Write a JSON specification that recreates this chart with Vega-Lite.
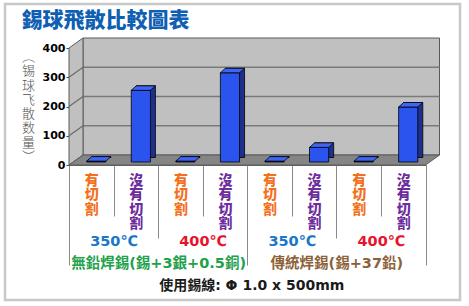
{
  "$schema": "https://vega.github.io/schema/vega-lite/v6.json",
  "autosize": "none",
  "width": 356.5,
  "height": 117,
  "padding": {"left": 69, "top": 48, "right": 43.5, "bottom": 141},
  "background": "white",
  "config": {
    "view": {"stroke": null},
    "axis": {"grid": false, "labelLimit": 0},
    "axisQuantitative": {"tickCount": 5, "labelOverlap": false}
  },
  "datasets": {
    "bars": [
      {"solder": "無鉛焊錫(錫+3銀+0.5銅)", "temp": "350℃", "cut": "有切割", "key": "無鉛-350-有切割", "count": 3},
      {"solder": "無鉛焊錫(錫+3銀+0.5銅)", "temp": "350℃", "cut": "沒有切割", "key": "無鉛-350-沒有切割", "count": 245},
      {"solder": "無鉛焊錫(錫+3銀+0.5銅)", "temp": "400℃", "cut": "有切割", "key": "無鉛-400-有切割", "count": 3},
      {"solder": "無鉛焊錫(錫+3銀+0.5銅)", "temp": "400℃", "cut": "沒有切割", "key": "無鉛-400-沒有切割", "count": 305},
      {"solder": "傳統焊錫(錫+37鉛)", "temp": "350℃", "cut": "有切割", "key": "傳統-350-有切割", "count": 3},
      {"solder": "傳統焊錫(錫+37鉛)", "temp": "350℃", "cut": "沒有切割", "key": "傳統-350-沒有切割", "count": 50},
      {"solder": "傳統焊錫(錫+37鉛)", "temp": "400℃", "cut": "有切割", "key": "傳統-400-有切割", "count": 3},
      {"solder": "傳統焊錫(錫+37鉛)", "temp": "400℃", "cut": "沒有切割", "key": "傳統-400-沒有切割", "count": 188}
    ],
    "temps": [
      {"group": "無鉛-350"},
      {"group": "無鉛-400"},
      {"group": "傳統-350"},
      {"group": "傳統-400"}
    ],
    "solders": [
      {"solder": "無鉛焊錫(錫+3銀+0.5銅)"},
      {"solder": "傳統焊錫(錫+37鉛)"}
    ],
    "heading": [{"name": "錫球飛散比較圖表"}],
    "caption": [{"note": "使用錫線: Φ 1.0 x 500mm"}],
    "ytitle": [
      {"ch": "︵"}, {"ch": "锡"}, {"ch": "球"}, {"ch": "飞"}, {"ch": "散"}, {"ch": "数"}, {"ch": "量"}, {"ch": "︶"}
    ],
    "grid": [{"v": 100}, {"v": 200}, {"v": 300}],
    "box": [{"bottom": 0}]
  },
  "layer": [
    {
      "layer": [
        {
          "data": {"name": "box"},
          "mark": {"type": "point", "shape": "M-242.25,-161 L212.75,-161 L212.75,135 L-242.25,135 Z", "size": 4, "filled": false, "stroke": "#c8c8c8", "strokeWidth": 2.5, "opacity": 1},
          "encoding": {
            "y": {"field": "bottom", "type": "quantitative",
                  "scale": {"domain": [0, 400], "nice": false, "zero": true},
                  "axis": {
                    "orient": "left", "values": [0, 100, 200, 300, 400], "tickCount": 5, "title": null,
                    "domainColor": "#444", "tickSize": 3, "tickColor": "#444",
                    "labelFont": "DejaVu Sans", "labelFontWeight": "bold", "labelFontSize": 11, "labelColor": "#000", "labelPadding": 1,
                    "labelOverlap": false
                  }}
          }
        },
        {
          "data": {"name": "box"},
          "mark": {"type": "point", "shape": "M-164.25,-10 L192.25,-10 L192.25,-127 L-164.25,-127 Z", "size": 4, "filled": true, "fill": "#c0c0c0", "stroke": "#5a5a5a", "strokeWidth": 1, "opacity": 1},
          "encoding": {"y": {"field": "bottom", "type": "quantitative"}}
        },
        {
          "data": {"name": "grid"},
          "mark": {"type": "point", "shape": "M-164.25,-10 L192.25,-10", "size": 4, "filled": false, "stroke": "#7a7a7a", "strokeWidth": 1.5, "opacity": 1},
          "encoding": {"y": {"field": "v", "type": "quantitative"}}
        },
        {
          "data": {"name": "box"},
          "mark": {"type": "point", "shape": "M-178.25,0 L-178.25,-117 L-164.25,-127 L-164.25,-10 Z", "size": 4, "filled": true, "fill": "#c0c0c0", "stroke": "#5a5a5a", "strokeWidth": 1, "opacity": 1},
          "encoding": {"y": {"field": "bottom", "type": "quantitative"}}
        },
        {
          "data": {"name": "grid"},
          "mark": {"type": "point", "shape": "M-178.25,0 L-164.25,-10", "size": 4, "filled": false, "stroke": "#6a6a6a", "strokeWidth": 1.2, "opacity": 1},
          "encoding": {"y": {"field": "v", "type": "quantitative"}}
        },
        {
          "data": {"name": "box"},
          "mark": {"type": "point", "shape": "M-178.25,0 L178.25,0 L192.25,-10 L-164.25,-10 Z", "size": 4, "filled": true, "fill": "#858585", "stroke": "#5a5a5a", "strokeWidth": 1, "opacity": 1},
          "encoding": {"y": {"field": "bottom", "type": "quantitative"}}
        },
        {
          "data": {"name": "bars"},
          "mark": {"type": "bar", "width": {"band": 0.43}, "fill": "#1e2f8c", "stroke": "#000", "strokeWidth": 0.8, "xOffset": 10, "yOffset": -7.5, "y2Offset": -3},
          "encoding": {
            "x": {"field": "key", "type": "nominal",
                  "scale": {"domain": ["無鉛-350-有切割", "無鉛-350-沒有切割", "無鉛-400-有切割", "無鉛-400-沒有切割", "傳統-350-有切割", "傳統-350-沒有切割", "傳統-400-有切割", "傳統-400-沒有切割"],
                            "paddingInner": 0, "paddingOuter": 0},
                  "axis": {
                    "orient": "bottom", "title": null, "labels": false,
                    "domain": true, "domainColor": "#666", "domainWidth": 1,
                    "ticks": true, "tickBand": "extent", "tickSize": 51, "tickColor": "#8a8a8a", "tickWidth": 1
                  }},
            "y": {"field": "count", "type": "quantitative"}
          }
        },
        {
          "data": {"name": "bars"},
          "mark": {"type": "bar", "width": {"band": 0.43}, "fill": "#2b54ee", "stroke": "#000", "strokeWidth": 0.8, "xOffset": 5, "yOffset": -3, "y2Offset": -3},
          "encoding": {
            "x": {"field": "key", "type": "nominal"},
            "y": {"field": "count", "type": "quantitative"}
          }
        },
        {
          "data": {"name": "bars"},
          "mark": {"type": "point", "shape": "M-4.6,-3 L14.6,-3 L19.6,-7.5 L0.4,-7.5 Z", "size": 4, "filled": true, "fill": "#3e65f4", "stroke": "#000", "strokeWidth": 0.8, "opacity": 1},
          "encoding": {
            "x": {"field": "key", "type": "nominal"},
            "y": {"field": "count", "type": "quantitative"}
          }
        }
      ]
    },
    {
      "data": {"name": "heading"},
      "mark": {"type": "point", "opacity": 0},
      "encoding": {
        "x": {"field": "name", "type": "nominal",
              "scale": {"paddingInner": 0, "paddingOuter": 0},
              "axis": {
                "orient": "top", "title": null, "domain": false, "ticks": false,
                "labelColor": "#0f5fb3",
                "labelFont": "Noto Sans CJK TC", "labelFontWeight": 900, "labelFontSize": 21,
                "labelAngle": 0, "labelAlign": "left", "labelBaseline": "alphabetic", "labelPadding": 21.5, "labelOffset": -226.25, "labelOverlap": false
              }}
      }
    },
    {
      "data": {"name": "bars"},
      "mark": {"type": "point", "opacity": 0},
      "encoding": {
        "x": {"field": "key", "type": "nominal",
              "scale": {"domain": ["無鉛-350-有切割", "無鉛-350-沒有切割", "無鉛-400-有切割", "無鉛-400-沒有切割", "傳統-350-有切割", "傳統-350-沒有切割", "傳統-400-有切割", "傳統-400-沒有切割"], "paddingInner": 0, "paddingOuter": 0},
              "axis": {
                "orient": "bottom", "title": null, "domain": false, "ticks": false,
                "labelExpr": "indexof(datum.value, '沒有') >= 0 ? '沒' : '有'",
                "labelColor": {"condition": {"test": "indexof(datum.value, '沒有') >= 0", "value": "#6d2d9e"}, "value": "#f37021"},
                "labelFont": "Noto Sans CJK TC", "labelFontWeight": 900, "labelFontSize": 14,
                "labelAngle": 0, "labelAlign": "center", "labelBaseline": "top", "labelPadding": 8.3, "labelOverlap": false
              }}
      }
    },
    {
      "data": {"name": "bars"},
      "mark": {"type": "point", "opacity": 0},
      "encoding": {
        "x": {"field": "key", "type": "nominal",
              "scale": {"domain": ["無鉛-350-有切割", "無鉛-350-沒有切割", "無鉛-400-有切割", "無鉛-400-沒有切割", "傳統-350-有切割", "傳統-350-沒有切割", "傳統-400-有切割", "傳統-400-沒有切割"], "paddingInner": 0, "paddingOuter": 0},
              "axis": {
                "orient": "bottom", "title": null, "domain": false, "ticks": false,
                "labelExpr": "indexof(datum.value, '沒有') >= 0 ? '有' : '切'",
                "labelColor": {"condition": {"test": "indexof(datum.value, '沒有') >= 0", "value": "#6d2d9e"}, "value": "#f37021"},
                "labelFont": "Noto Sans CJK TC", "labelFontWeight": 900, "labelFontSize": 14,
                "labelAngle": 0, "labelAlign": "center", "labelBaseline": "top", "labelPadding": 22.8, "labelOverlap": false
              }}
      }
    },
    {
      "data": {"name": "bars"},
      "mark": {"type": "point", "opacity": 0},
      "encoding": {
        "x": {"field": "key", "type": "nominal",
              "scale": {"domain": ["無鉛-350-有切割", "無鉛-350-沒有切割", "無鉛-400-有切割", "無鉛-400-沒有切割", "傳統-350-有切割", "傳統-350-沒有切割", "傳統-400-有切割", "傳統-400-沒有切割"], "paddingInner": 0, "paddingOuter": 0},
              "axis": {
                "orient": "bottom", "title": null, "domain": false, "ticks": false,
                "labelExpr": "indexof(datum.value, '沒有') >= 0 ? '切' : '割'",
                "labelColor": {"condition": {"test": "indexof(datum.value, '沒有') >= 0", "value": "#6d2d9e"}, "value": "#f37021"},
                "labelFont": "Noto Sans CJK TC", "labelFontWeight": 900, "labelFontSize": 14,
                "labelAngle": 0, "labelAlign": "center", "labelBaseline": "top", "labelPadding": 37.3, "labelOverlap": false
              }}
      }
    },
    {
      "data": {"name": "bars"},
      "mark": {"type": "point", "opacity": 0},
      "encoding": {
        "x": {"field": "key", "type": "nominal",
              "scale": {"domain": ["無鉛-350-有切割", "無鉛-350-沒有切割", "無鉛-400-有切割", "無鉛-400-沒有切割", "傳統-350-有切割", "傳統-350-沒有切割", "傳統-400-有切割", "傳統-400-沒有切割"], "paddingInner": 0, "paddingOuter": 0},
              "axis": {
                "orient": "bottom", "title": null, "domain": false, "ticks": false,
                "labelExpr": "indexof(datum.value, '沒有') >= 0 ? '割' : ''",
                "labelColor": "#6d2d9e",
                "labelFont": "Noto Sans CJK TC", "labelFontWeight": 900, "labelFontSize": 14,
                "labelAngle": 0, "labelAlign": "center", "labelBaseline": "top", "labelPadding": 51.8, "labelOverlap": false
              }}
      }
    },
    {
      "data": {"name": "temps"},
      "mark": {"type": "point", "opacity": 0},
      "encoding": {
        "x": {"field": "group", "type": "nominal",
              "scale": {"domain": ["無鉛-350", "無鉛-400", "傳統-350", "傳統-400"], "paddingInner": 0, "paddingOuter": 0},
              "axis": {
                "orient": "bottom", "title": null, "domain": false, "labels": false,
                "ticks": true, "tickBand": "extent", "tickSize": 73, "tickColor": "#8a8a8a", "tickWidth": 1
              }}
      }
    },
    {
      "data": {"name": "temps"},
      "mark": {"type": "point", "opacity": 0},
      "encoding": {
        "x": {"field": "group", "type": "nominal",
              "scale": {"domain": ["無鉛-350", "無鉛-400", "傳統-350", "傳統-400"], "paddingInner": 0, "paddingOuter": 0},
              "axis": {
                "orient": "bottom", "title": null, "domain": false, "ticks": false,
                "labelExpr": "indexof(datum.value, '350') >= 0 ? '350℃' : '400℃'",
                "labelColor": {"condition": {"test": "indexof(datum.value, '350') >= 0", "value": "#1976c8"}, "value": "#e8132b"},
                "labelFont": "DejaVu Sans", "labelFontWeight": "bold", "labelFontSize": 14.5,
                "labelAngle": 0, "labelAlign": "center", "labelBaseline": "top", "labelPadding": 69, "labelOverlap": false
              }}
      }
    },
    {
      "data": {"name": "solders"},
      "mark": {"type": "point", "opacity": 0},
      "encoding": {
        "x": {"field": "solder", "type": "nominal",
              "scale": {"domain": ["無鉛焊錫(錫+3銀+0.5銅)", "傳統焊錫(錫+37鉛)"], "paddingInner": 0, "paddingOuter": 0},
              "axis": {
                "orient": "bottom", "title": null, "domain": false, "labels": false,
                "ticks": true, "tickBand": "extent", "tickSize": 100, "tickColor": "#8a8a8a", "tickWidth": 1
              }}
      }
    },
    {
      "data": {"name": "solders"},
      "mark": {"type": "point", "opacity": 0},
      "encoding": {
        "x": {"field": "solder", "type": "nominal",
              "scale": {"domain": ["無鉛焊錫(錫+3銀+0.5銅)", "傳統焊錫(錫+37鉛)"], "paddingInner": 0, "paddingOuter": 0},
              "axis": {
                "orient": "bottom", "title": null, "domain": false, "ticks": false,
                "labelColor": {"condition": {"test": "indexof(datum.value, '無鉛') >= 0", "value": "#22a04b"}, "value": "#8c6239"},
                "labelFont": "DejaVu Sans, Noto Sans CJK TC", "labelFontWeight": "bold", "labelFontSize": 14.5,
                "labelAngle": 0, "labelAlign": "center", "labelBaseline": "top", "labelPadding": 91.6, "labelOverlap": false
              }}
      }
    },
    {
      "data": {"name": "caption"},
      "mark": {"type": "point", "opacity": 0},
      "encoding": {
        "x": {"field": "note", "type": "nominal",
              "scale": {"paddingInner": 0, "paddingOuter": 0},
              "axis": {
                "orient": "bottom", "title": null, "domain": false, "ticks": false,
                "labelColor": "#1a1a1a",
                "labelFont": "DejaVu Sans, Noto Sans CJK TC", "labelFontWeight": "bold", "labelFontSize": 14,
                "labelAngle": 0, "labelAlign": "center", "labelBaseline": "top", "labelPadding": 113.9, "labelOffset": 4, "labelOverlap": false
              }}
      }
    },
    {
      "data": {"name": "ytitle"},
      "mark": {"type": "point", "opacity": 0},
      "encoding": {
        "y": {"field": "ch", "type": "nominal",
              "scale": {"type": "point", "domain": ["︵", "锡", "球", "飞", "散", "数", "量", "︶"], "padding": 0.59},
              "axis": {
                "orient": "left", "offset": 41, "title": null, "domain": false, "ticks": false,
                "labelFont": "Noto Sans CJK SC", "labelFontWeight": 300, "labelFontSize": 13, "labelColor": "#555",
                "labelAngle": 0, "labelAlign": "center", "labelBaseline": "middle", "labelPadding": 0, "labelOverlap": false
              }}
      }
    }
  ],
  "resolve": {"scale": {"x": "independent", "y": "independent"}, "axis": {"x": "independent", "y": "independent"}}
}
